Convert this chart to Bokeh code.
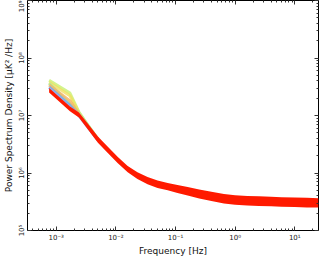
from bokeh.plotting import figure
from bokeh.models import LogAxis, FixedTicker, CustomJSTickFormatter, ColumnDataSource, Range1d
from bokeh.embed import file_html
from bokeh.resources import INLINE

# Frequencies [Hz]
freq = [7.6e-4, 1.7e-3, 2.4e-3, 3.4e-3, 5e-3, 7.4e-3, 1.08e-2, 1.58e-2, 2.3e-2, 3.4e-2, 5e-2,
        7.4e-2, 0.108, 0.16, 0.25, 0.4, 0.65, 1.0, 1.6, 2.5, 4.0, 6.0, 10.0, 16.0, 25.0]
# red band (spread of the dominant red spectra)
band_lo = [2.5e7, 1.18e7, 0.92e7, 5.7e6, 3.36e6, 2.2e6, 1.48e6, 1.03e6, 7.9e5, 6.4e5, 5.5e5,
           5.0e5, 4.5e5, 4.05e5, 3.6e5, 3.25e5, 2.95e5, 2.8e5, 2.72e5, 2.68e5, 2.64e5, 2.6e5,
           2.56e5, 2.52e5, 2.5e5]
band_hi = [3.0e7, 1.43e7, 1.13e7, 7.2e6, 4.3e6, 2.83e6, 1.9e6, 1.33e6, 1.03e6, 8.5e5, 7.4e5,
           6.7e5, 6.2e5, 5.7e5, 5.15e5, 4.7e5, 4.3e5, 4.1e5, 4.0e5, 3.95e5, 3.88e5, 3.8e5,
           3.75e5, 3.7e5, 3.65e5]

# low-frequency fan of the other spectra (first 5 frequencies)
fan_freq = freq[:5]
fan_yellowgreen = [4.1e7, 2.45e7, 1.15e7, 6.8e6, 3.9e6]
fan_yellow = [3.8e7, 2.2e7, 1.12e7, 6.6e6, 3.85e6]
fan_lightgreen = [3.6e7, 1.6e7, 1.1e7, 6.7e6, 3.9e6]
fan_orange = [3.4e7, 1.8e7, 1.06e7, 6.5e6, 3.8e6]
fan_blue = [3.1e7, 1.5e7, 1.0e7, 6.3e6, 3.75e6]
fan_series = [
    (fan_yellowgreen, "#c8f070"),
    (fan_yellow, "#f0e060"),
    (fan_lightgreen, "#98f0a8"),
    (fan_orange, "#f8b060"),
    (fan_blue, "#70a0f0"),
]

x_ticks = [1e-3, 1e-2, 1e-1, 1.0, 10.0]
y_ticks = [1e5, 1e6, 1e7, 1e8, 1e9]

p = figure(width=319, height=258, x_axis_type="log", y_axis_type="log",
           x_range=Range1d(3.3e-4, 25), y_range=Range1d(1e5, 1e9),
           output_backend="svg", toolbar_location=None,
           min_border_left=21, min_border_right=1, min_border_top=0, min_border_bottom=0)
p.xgrid.visible = False
p.ygrid.visible = False
p.outline_line_color = "black"
p.outline_line_width = 1
p.background_fill_color = "white"
p.border_fill_color = "white"

for vals, col in fan_series:
    p.line(fan_freq, vals, line_color=col, line_width=3, line_alpha=0.8)

src = ColumnDataSource(dict(f=freq, lo=band_lo, hi=band_hi))
p.varea(x="f", y1="lo", y2="hi", source=src, fill_color="#ff1a00", fill_alpha=1.0)

fmt = CustomJSTickFormatter(code="""
const sup = {'-':'\u207b','0':'\u2070','1':'\u00b9','2':'\u00b2','3':'\u00b3','4':'\u2074','5':'\u2075','6':'\u2076','7':'\u2077','8':'\u2078','9':'\u2079'};
const e = String(Math.round(Math.log10(tick)));
let s = '10';
for (const c of e) { s += sup[c]; }
return s;
""")
blank = CustomJSTickFormatter(code="return '';")

def minor(lo_exp, hi_exp):
    out = []
    for e in range(lo_exp, hi_exp + 1):
        for k in range(2, 10):
            out.append(k * 10.0 ** e)
    return out

xt = FixedTicker(ticks=x_ticks, minor_ticks=minor(-4, 1))
yt = FixedTicker(ticks=y_ticks, minor_ticks=minor(5, 8))

def style(ax):
    ax.axis_line_color = None
    ax.major_tick_in = 4
    ax.major_tick_out = 0
    ax.minor_tick_in = 2
    ax.minor_tick_out = 0
    ax.major_tick_line_color = "#333333"
    ax.minor_tick_line_color = "#333333"
    ax.major_label_text_font = "DejaVu Sans"
    ax.major_label_text_font_size = "7px"
    ax.major_label_text_color = "#222222"
    ax.axis_label_text_font = "DejaVu Sans"
    ax.axis_label_text_font_size = "9px"
    ax.axis_label_text_font_style = "normal"
    ax.axis_label_text_color = "#111111"

xa = p.xaxis[0]
xa.ticker = xt
xa.formatter = fmt
xa.axis_label = "Frequency [Hz]"
style(xa)
xa.major_label_standoff = 3
xa.axis_label_standoff = 1

ya = p.yaxis[0]
ya.ticker = yt
ya.formatter = fmt
ya.axis_label = "Power Spectrum Density [\u03bcK\u00b2 /Hz]"
style(ya)
ya.major_label_orientation = "vertical"
ya.major_label_standoff = 2
ya.axis_label_standoff = 1

xa2 = LogAxis(ticker=xt, formatter=blank)
style(xa2)
xa2.major_label_standoff = 0
p.add_layout(xa2, "above")
ya2 = LogAxis(ticker=yt, formatter=blank)
style(ya2)
ya2.major_label_standoff = 0
p.add_layout(ya2, "right")

open("out.html", "w").write(file_html(p, INLINE))
